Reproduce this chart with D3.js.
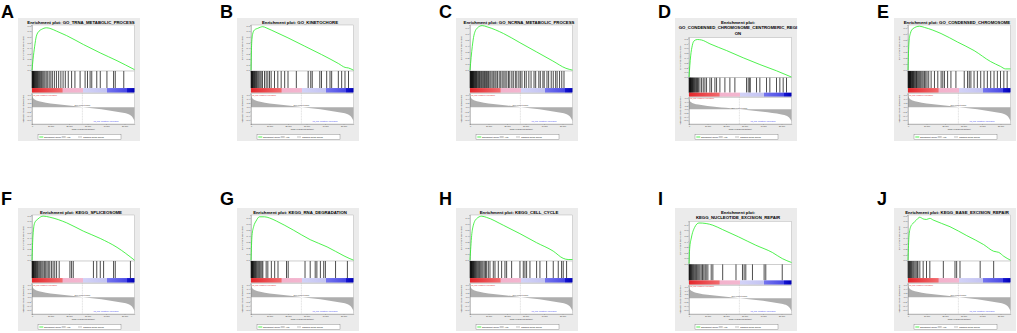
<!DOCTYPE html>
<html>
<head>
<meta charset="utf-8">
<script src="https://cdn.jsdelivr.net/npm/d3@7"></script>
<style>
  body { margin: 0; background: #fff; }
  svg { display: block; font-family: "Liberation Sans", Arial, sans-serif; }
</style>
</head>
<body>
<svg id="chart"></svg>
<script>
// ranks are in thousands (0 .. 55.4k genes)
const xMax = 55.4;
const xTicks = [0, 10, 20, 30, 40, 50];
const rankTicks = [0.6, 0.4, 0.2, 0, -0.2, -0.4, -0.6];
const zeroCross = 27.23;

const letters = ["A", "B", "C", "D", "E", "F", "G", "H", "I", "J"];
const titles = [
  ["Enrichment plot: GO_TRNA_METABOLIC_PROCESS"],
  ["Enrichment plot: GO_KINETOCHORE"],
  ["Enrichment plot: GO_NCRNA_METABOLIC_PROCESS"],
  ["Enrichment plot:", "GO_CONDENSED_CHROMOSOME_CENTROMERIC_REGI", "ON"],
  ["Enrichment plot: GO_CONDENSED_CHROMOSOME"],
  ["Enrichment plot: KEGG_SPLICEOSOME"],
  ["Enrichment plot: KEGG_RNA_DEGRADATION"],
  ["Enrichment plot: KEGG_CELL_CYCLE"],
  ["Enrichment plot:", "KEGG_NUCLEOTIDE_EXCISION_REPAIR"],
  ["Enrichment plot: KEGG_BASE_EXCISION_REPAIR"]
];
const esTopTick = [0.8, 0.8, 0.7, 0.8, 0.7, 0.8, 0.7, 0.7, 0.7, 0.8];
const esMax = [0.81, 0.81, 0.74, 0.82, 0.74, 0.81, 0.75, 0.75, 0.76, 0.81];

// running enrichment score [rank (k), ES]
const esA = [[0,0],[0.55,0.19],[1.45,0.43],[2.36,0.61],[3.81,0.70],[5.09,0.73],[7.81,0.76],[9.63,0.75],[13.26,0.70],[18.71,0.62],[27.79,0.46],[36.87,0.31],[45.95,0.17],[55.4,0.01]];
const esB = [[0,0],[0.36,0.48],[0.91,0.65],[1.82,0.72],[3.63,0.75],[6.36,0.78],[8.17,0.76],[10.9,0.72],[19.98,0.58],[29.06,0.43],[38.14,0.28],[47.23,0.12],[50.86,0.05],[52.67,0.04],[55.4,0]];
const esC = [[0,0],[1.24,0.39],[2.13,0.57],[3.91,0.69],[6.57,0.73],[9.23,0.71],[18.11,0.60],[26.99,0.45],[35.87,0.30],[44.75,0.15],[51.85,0.03],[55.4,0]];
const esD = [[0,0],[0.9,0.44],[1.8,0.66],[2.7,0.75],[4.5,0.78],[6.83,0.77],[11.33,0.69],[20.33,0.55],[29.32,0.40],[38.31,0.26],[47.31,0.13],[55.4,0]];
const esE = [[0,0],[0.54,0.46],[1.25,0.60],[2.68,0.68],[6.25,0.72],[8.94,0.70],[17.87,0.60],[26.81,0.46],[35.74,0.32],[44.68,0.14],[50.04,0.06],[52.72,0.02],[55.4,0.02]];
const esF = [[0,0],[0.55,0.45],[1.45,0.67],[3.27,0.74],[5.99,0.79],[9.63,0.77],[18.71,0.67],[27.79,0.52],[36.87,0.39],[45.95,0.23],[55.4,0]];
const esG = [[0,0],[0.55,0.41],[1.46,0.56],[2.74,0.65],[4.57,0.72],[7.31,0.72],[10.06,0.70],[13.71,0.65],[22.85,0.50],[32.0,0.34],[41.14,0.22],[50.28,0.07],[53.02,0.03],[55.4,0]];
const esH = [[0,0],[0.9,0.41],[1.8,0.58],[3.6,0.69],[6.3,0.73],[8.99,0.71],[17.99,0.58],[26.98,0.44],[35.97,0.29],[44.97,0.15],[50.36,0.03],[53.06,0.01],[55.4,0.01]];
const esI = [[0,0],[0.36,0.27],[1.25,0.46],[3.04,0.65],[5.36,0.73],[9.29,0.72],[12.87,0.69],[18.23,0.61],[26.79,0.48],[36.1,0.33],[45.03,0.20],[50.4,0.09],[55.4,0.02]];
const esJ = [[0,0],[0.55,0.44],[1.45,0.60],[2.72,0.66],[4.54,0.72],[6.36,0.77],[8.17,0.74],[9.99,0.73],[11.81,0.75],[13.62,0.72],[22.7,0.60],[31.79,0.44],[40.87,0.28],[46.32,0.16],[49.04,0.14],[51.77,0.07],[55.4,0]];

// gene set hit positions (rank, k)
const hitsA = [0.1,0.3,0.5,0.7,0.9,1.1,1.4,1.7,2.0,2.3,2.6,3.0,3.4,3.8,4.2,4.7,5.2,5.8,6.4,7.0,7.7,8.5,9.3,10.2,11.0,12.1,13.2,14.4,15.6,16.8,18.0,19.6,21.4,23.2,26.0,28.7,30.0,31.4,32.3,35.0,36.9,40.5,44.1,45.0,49.6];
const hitsB = [0.1,0.3,0.5,0.7,0.9,1.2,1.5,1.8,2.1,2.5,2.9,3.3,3.8,4.3,4.9,5.5,6.2,7.3,8.2,9.1,10.0,10.9,12.7,14.5,16.3,18.2,20.0,24.5,30.9,32.3,33.1,37.2,38.1,40.9,42.7,43.6,47.2,49.0,50.8,52.7];
const hitsC = [0.1,0.3,0.5,0.7,0.9,1.1,1.3,1.5,1.8,2.0,2.3,2.6,2.9,3.2,3.5,3.9,4.3,4.7,5.1,5.5,6.0,6.4,6.9,7.4,7.9,8.3,8.9,9.4,10.0,10.7,11.3,12.0,12.8,13.5,14.1,14.9,15.8,16.6,17.4,18.3,19.0,19.9,20.8,21.5,22.6,23.4,24.5,25.3,26.4,27.2,28.1,29.5,30.4,31.8,33.0,34.6,35.5,37.2,38.0,39.4,40.1,41.6,42.5,43.9,45.0,46.3,47.1,48.4,49.6,50.8];
const hitsD = [0.1,0.3,0.5,0.7,0.9,1.1,1.3,1.6,1.9,2.2,2.5,2.9,3.3,3.7,4.1,4.6,5.1,5.9,6.8,7.7,8.6,9.5,11.3,12.2,14.0,14.9,16.7,19.4,22.1,24.8,31.1,32.0,32.9,33.0,36.5,38.3,41.9,43.7,47.3,49.1,50.9,52.7];
const hitsE = [0.1,0.3,0.5,0.7,0.9,1.1,1.3,1.5,1.8,2.1,2.4,2.7,3.0,3.4,3.8,4.2,4.6,5.0,5.5,6.0,6.5,7.0,7.6,8.2,8.9,9.6,10.3,11.2,12.5,14.3,16.1,17.9,18.8,19.7,21.4,23.2,25.9,30.4,32.2,33.1,34.0,35.7,37.5,39.3,41.1,42.9,44.7,46.5,48.3,50.0,51.8,53.6];
const hitsF = [0.1,0.3,0.5,0.7,0.9,1.2,1.5,1.8,2.1,2.5,2.9,3.3,3.8,4.3,4.8,5.4,6.0,6.7,7.4,8.1,8.8,9.6,10.5,11.4,12.3,13.3,14.7,20.5,21.4,22.3,33.2,35.0,36.9,38.7,44.1,45.0,53.2];
const hitsG = [0.1,0.3,0.5,0.7,0.9,1.1,1.4,1.7,2.0,2.4,2.8,3.2,3.7,4.2,4.7,5.3,5.9,6.4,8.2,9.1,11.0,12.8,14.6,19.2,20.1,29.2,32.0,34.7,35.6,37.5,39.3,40.2,45.7,52.1];
const hitsH = [0.1,0.3,0.5,0.7,0.9,1.1,1.3,1.6,1.9,2.2,2.5,2.9,3.3,3.7,4.2,4.7,5.2,5.8,6.4,7.0,7.7,8.4,9.0,9.9,10.8,12.6,13.5,15.3,17.1,18.9,19.8,22.5,27.0,28.8,29.7,30.6,32.4,36.0,37.8,41.4,45.0,47.7,49.5,50.4,52.2];
const hitsI = [0.1,0.3,0.5,0.8,1.1,1.4,1.8,2.2,2.6,3.1,3.6,4.1,4.7,5.3,5.9,6.6,7.3,8.0,8.7,9.3,10.2,12.0,12.9,18.2,25.4,28.9,29.8,30.7,34.3,40.6,41.5,50.4];
const hitsJ = [0.1,0.4,0.7,1.0,1.4,1.8,2.2,2.7,3.2,3.8,4.4,5.0,5.4,6.4,8.2,10.0,11.8,19.1,25.4,26.3,28.1,39.0,46.3];

// ranked list metric, shared by all panels [rank (k), signal2noise]
const rankMetric = [[0,0.62],[0.3,0.5],[1,0.4],[2.5,0.32],[5,0.26],[10,0.18],[15,0.13],[20,0.08],[25,0.03],[27.23,0],[30,-0.03],[35,-0.08],[40,-0.13],[45,-0.2],[50,-0.28],[53,-0.37],[54.5,-0.5],[55.4,-0.66]];

// heat bar under the hits
const barRanks = [0, 16.4, 16.6, 27.6, 27.8, 40.3, 40.5, 51.4, 51.6, 55.4];
const barColors = ["#e4262b", "#f26a6e", "#f3b2cc", "#f3b6cf", "#d2d2f7", "#c4c4f2", "#7474ee", "#4848e6", "#1515d2", "#0000b4"];

const esSets = [esA, esB, esC, esD, esE, esF, esG, esH, esI, esJ];
const hitSets = [hitsA, hitsB, hitsC, hitsD, hitsE, hitsF, hitsG, hitsH, hitsI, hitsJ];

const width = 1017, height = 333;
const colX = [18, 237, 456, 675, 894];
const rowY = [18, 208];
const letterY = [18, 205];
const panelW = 122, panelH = 123;

const svg = d3.select("#chart").attr("width", width).attr("height", height);

const grad = svg.append("defs").append("linearGradient").attr("id", "heat");
barRanks.forEach((r, k) => grad.append("stop")
  .attr("offset", r / xMax)
  .attr("stop-color", barColors[k]));

const styleAxis = (g, fs) => {
  g.attr("font-size", fs).attr("font-family", null);
  g.select(".domain").attr("stroke", "#666").attr("stroke-width", 0.3);
  g.selectAll(".tick line").attr("stroke", "#666").attr("stroke-width", 0.3);
  g.selectAll(".tick text").attr("fill", "#333");
};

letters.forEach((letter, i) => {
  const gx = colX[i % 5], row = Math.floor(i / 5), gy = rowY[row];
  const title = titles[i];

  svg.append("text")
    .attr("x", gx - 17).attr("y", letterY[row])
    .attr("font-size", 18).attr("font-weight", "bold")
    .text(letter);

  const g = svg.append("g").attr("transform", `translate(${gx},${gy})`);
  g.append("rect").attr("width", panelW).attr("height", panelH).attr("fill", "#ebebeb");

  title.forEach((t, j) => g.append("text")
    .attr("x", 63).attr("y", 5.5 + j * 5.8)
    .attr("text-anchor", "middle")
    .attr("font-size", 4.3).attr("font-weight", "bold")
    .text(t));

  const left = 14, right = 116.5;
  const esTop = 7 + (title.length - 1) * 6.3;
  const rankBottom = 106;
  const total = rankBottom - esTop;
  const esBottom = esTop + total * 0.465;
  const barTop = esBottom + total * 0.172;
  const barBottom = barTop + total * 0.045;
  const rankTop = barBottom + total * 0.01;

  const x = d3.scaleLinear().domain([0, xMax]).range([left, right]);
  const yEs = d3.scaleLinear().domain([-0.015, esMax[i]]).range([esBottom, esTop]);
  const yRank = d3.scaleLinear().domain([-0.8, 0.65]).range([rankBottom, rankTop]);

  // ES plot
  g.append("rect").attr("x", left).attr("y", esTop)
    .attr("width", right - left).attr("height", esBottom - esTop)
    .attr("fill", "#fff").attr("stroke", "#888").attr("stroke-width", 0.3);

  g.append("g")
    .attr("transform", `translate(${left},0)`)
    .call(d3.axisLeft(yEs).tickValues(d3.range(0, esTopTick[i] + 0.05, 0.1))
      .tickSize(0.8).tickPadding(0.6).tickFormat(d3.format(".1f")))
    .call(a => styleAxis(a, 2.2));

  g.append("text")
    .attr("transform", `translate(6,${(esTop + esBottom) / 2}) rotate(-90)`)
    .attr("text-anchor", "middle").attr("font-size", 2.4).attr("fill", "#333")
    .text("Enrichment score (ES)");

  g.append("path")
    .datum(esSets[i])
    .attr("fill", "none")
    .attr("stroke", "#22ee22")
    .attr("stroke-width", 0.8)
    .attr("d", d3.line().x(d => x(d[0])).y(d => yEs(d[1])).curve(d3.curveMonotoneX));

  // hits + heat bar
  g.append("rect").attr("x", left).attr("y", esBottom)
    .attr("width", right - left).attr("height", barBottom - esBottom)
    .attr("fill", "#fff").attr("stroke", "#888").attr("stroke-width", 0.3);

  g.append("g").selectAll("line")
    .data(hitSets[i])
    .join("line")
    .attr("x1", d => x(d)).attr("x2", d => x(d))
    .attr("y1", esBottom).attr("y2", barTop)
    .attr("stroke", "#000").attr("stroke-width", 0.7);

  g.append("rect").attr("x", left).attr("y", barTop)
    .attr("width", right - left).attr("height", barBottom - barTop)
    .attr("fill", "url(#heat)");

  // ranked list metric
  g.append("rect").attr("x", left).attr("y", rankTop)
    .attr("width", right - left).attr("height", rankBottom - rankTop)
    .attr("fill", "#fff").attr("stroke", "#888").attr("stroke-width", 0.3);

  g.append("path")
    .datum(rankMetric)
    .attr("fill", "#aeaeae")
    .attr("d", d3.area().x(d => x(d[0])).y0(yRank(0)).y1(d => yRank(d[1])).curve(d3.curveMonotoneX));

  g.append("line")
    .attr("x1", x(zeroCross)).attr("x2", x(zeroCross))
    .attr("y1", rankTop).attr("y2", rankBottom)
    .attr("stroke", "#999").attr("stroke-width", 0.3).attr("stroke-dasharray", "1,0.6");

  g.append("text")
    .attr("x", x(zeroCross)).attr("y", yRank(0) - 0.8)
    .attr("text-anchor", "middle").attr("font-size", 1.8).attr("fill", "#444")
    .text("Zero cross at 27230");

  g.append("text")
    .attr("x", left + 1).attr("y", rankTop + 2)
    .attr("font-size", 1.8).attr("fill", "#e02020")
    .text("'na_pos' (positively correlated)");

  g.append("text")
    .attr("x", x(40)).attr("y", rankBottom - 2)
    .attr("text-anchor", "middle").attr("font-size", 1.8).attr("fill", "#3a3aee")
    .text("'na_neg' (negatively correlated)");

  g.append("g")
    .attr("transform", `translate(${left},0)`)
    .call(d3.axisLeft(yRank).tickValues(rankTicks)
      .tickSize(0.8).tickPadding(0.6).tickFormat(d3.format(".1f")))
    .call(a => styleAxis(a, 2.0));

  g.append("text")
    .attr("transform", `translate(6,${(rankTop + rankBottom) / 2}) rotate(-90)`)
    .attr("text-anchor", "middle").attr("font-size", 1.9).attr("fill", "#333")
    .text("Ranked list metric (Signal2Noise)");

  g.append("g")
    .attr("transform", `translate(0,${rankBottom})`)
    .call(d3.axisBottom(x).tickValues(xTicks)
      .tickSize(0.8).tickPadding(0.4).tickFormat(d => d3.format(",")(d * 1000)))
    .call(a => styleAxis(a, 2.0));

  g.append("text")
    .attr("x", (left + right) / 2).attr("y", rankBottom + 6)
    .attr("text-anchor", "middle").attr("font-size", 2.1).attr("fill", "#333")
    .text("Rank in Ordered Dataset");

  // legend
  const lg = g.append("g").attr("transform", "translate(20,116.5)");
  lg.append("rect").attr("width", 83).attr("height", 5)
    .attr("fill", "#fff").attr("stroke", "#555").attr("stroke-width", 0.3);
  lg.append("line").attr("x1", 1.3).attr("x2", 5.3).attr("y1", 2.5).attr("y2", 2.5)
    .attr("stroke", "#22ee22").attr("stroke-width", 0.8);
  lg.append("text").attr("x", 6.3).attr("y", 3.3).attr("font-size", 2.1).text("Enrichment profile");
  lg.append("line").attr("x1", 23.7).attr("x2", 27.7).attr("y1", 2.5).attr("y2", 2.5)
    .attr("stroke", "#000").attr("stroke-width", 0.4);
  lg.append("text").attr("x", 28.7).attr("y", 3.3).attr("font-size", 2.1).text("Hits");
  lg.append("line").attr("x1", 40).attr("x2", 44).attr("y1", 2.5).attr("y2", 2.5)
    .attr("stroke", "#aeaeae").attr("stroke-width", 0.8);
  lg.append("text").attr("x", 45.3).attr("y", 3.3).attr("font-size", 2.1).text("Ranking metric scores");
});
</script>
</body>
</html>
